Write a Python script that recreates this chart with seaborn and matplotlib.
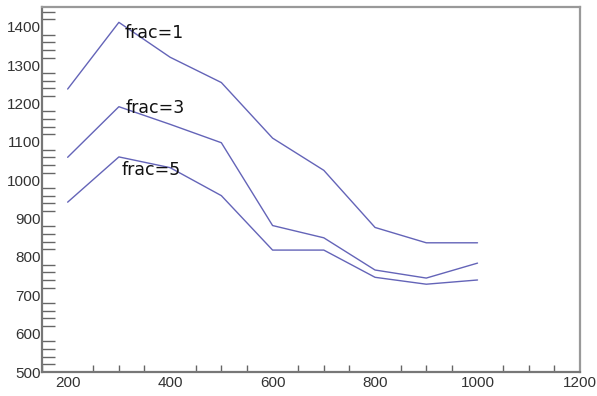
import matplotlib
matplotlib.use("Agg")
import matplotlib.pyplot as plt
import seaborn as sns
import pandas as pd
from matplotlib.ticker import MultipleLocator

x_vals = [200, 300, 400, 500, 600, 700, 800, 900, 1000]
frac1 = [1238, 1412, 1321, 1255, 1110, 1026, 877, 837, 837]
frac3 = [1060, 1192, 1146, 1098, 882, 850, 766, 745, 784]
frac5 = [943, 1061, 1033, 960, 818, 818, 747, 729, 740]
series_names = ["frac=1", "frac=3", "frac=5"]
label_pos_x = [312, 314, 305]
label_pos_y = [1384, 1189, 1026]

rows = []
for name, ys in zip(series_names, [frac1, frac3, frac5]):
    for xv, yv in zip(x_vals, ys):
        rows.append({"x": xv, "y": yv, "series": name})
df = pd.DataFrame(rows)

sns.set_style("white")
fig = plt.figure(figsize=(5.97, 3.96), dpi=100)
ax = fig.add_axes([0.0704, 0.0606, 0.9011, 0.9217])

line_color = "#6464b8"
sns.lineplot(data=df, x="x", y="y", hue="series", palette=[line_color] * 3,
             ax=ax, legend=False, linewidth=1.0, sort=False, estimator=None)

for name, lx, ly in zip(series_names, label_pos_x, label_pos_y):
    ax.text(lx, ly, name, fontsize=12.5, color="#111111", va="center", ha="left",
            family="DejaVu Sans")

ax.set_xlim(150, 1200)
ax.set_ylim(500, 1452)
ax.set_xlabel("")
ax.set_ylabel("")

ax.xaxis.set_major_locator(MultipleLocator(200))
ax.xaxis.set_minor_locator(MultipleLocator(50))
ax.yaxis.set_major_locator(MultipleLocator(100))
ax.yaxis.set_minor_locator(MultipleLocator(20))

ax.tick_params(axis="both", which="both", direction="in", color="#666666")
ax.tick_params(axis="y", which="major", length=17, width=1.2)
ax.tick_params(axis="y", which="minor", length=9, width=1.0, left=True)
ax.tick_params(axis="x", which="major", length=10, width=1.2)
ax.tick_params(axis="x", which="minor", length=5, width=1.0, bottom=True)
ax.tick_params(axis="both", labelsize=11, labelcolor="#333333")
ax.tick_params(axis="y", pad=1)
ax.tick_params(axis="x", pad=3)
for lab in ax.get_xticklabels() + ax.get_yticklabels():
    lab.set_family("Liberation Sans")

ax.set_yticks([500, 600, 700, 800, 900, 1000, 1100, 1200, 1300, 1400])
ax.set_xticks([200, 400, 600, 800, 1000, 1200])

for side in ["left", "bottom"]:
    ax.spines[side].set_color("#777777")
    ax.spines[side].set_linewidth(1.6)
for side in ["top", "right"]:
    ax.spines[side].set_color("#999999")
    ax.spines[side].set_linewidth(1.6)

fig.savefig("out.png", dpi=100)
